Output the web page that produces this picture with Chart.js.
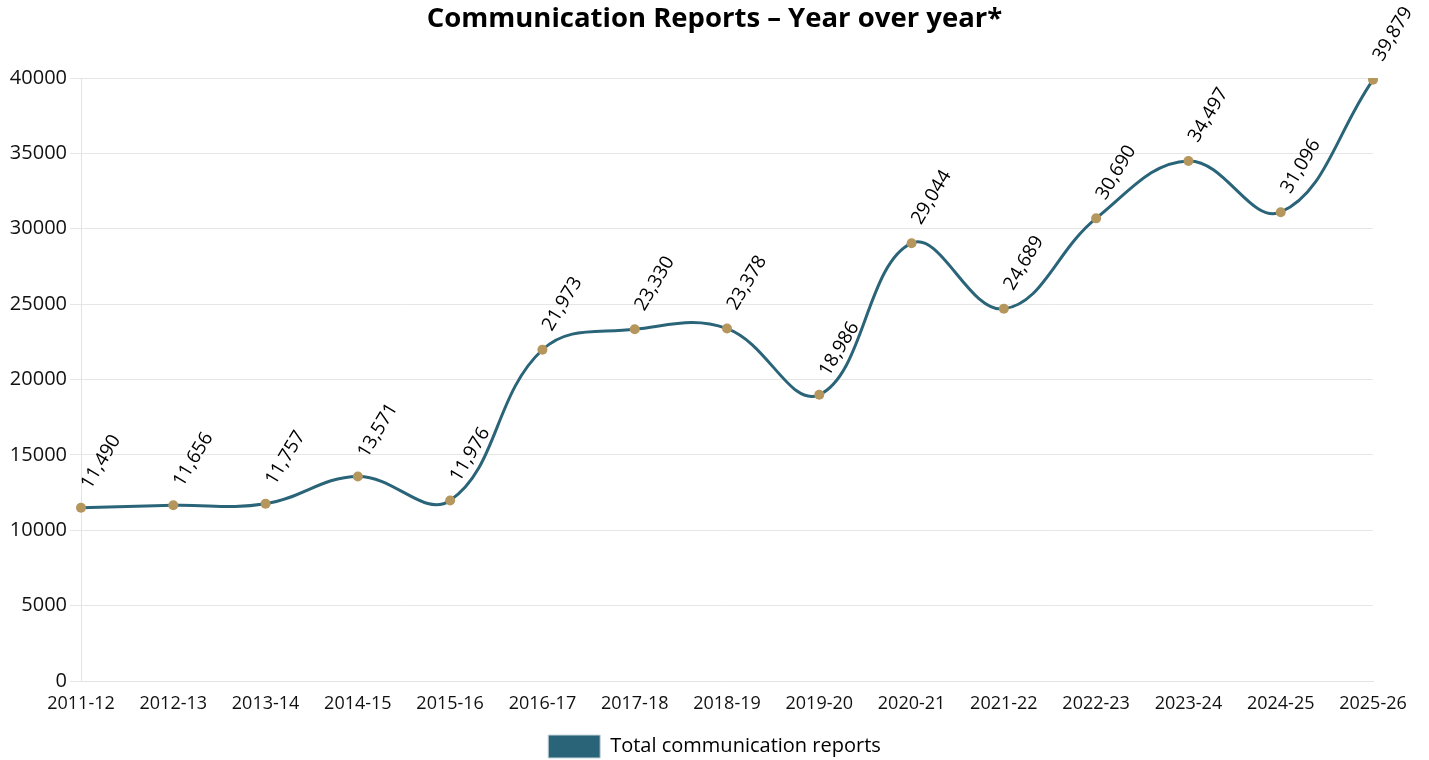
<!DOCTYPE html>
<html>
<head>
<meta charset="utf-8">
<script src="https://cdn.jsdelivr.net/npm/chart.js@4"></script>
<style>
  html, body { margin: 0; padding: 0; background: #ffffff; }
  #wrap { width: 1429px; height: 760px; }
</style>
</head>
<body>
<div id="wrap"><canvas id="chart" width="1429" height="760"></canvas></div>
<script>
// Fiscal years on the x axis
const years = ['2011-12','2012-13','2013-14','2014-15','2015-16','2016-17','2017-18',
  '2018-19','2019-20','2020-21','2021-22','2022-23','2023-24','2024-25','2025-26'];
// Total communication reports per year
const reports = [11490, 11656, 11757, 13571, 11976, 21973, 23330, 23378, 18986,
  29044, 24689, 30690, 34497, 31096, 39879];
// Y axis tick values
const yTicks = [0, 5000, 10000, 15000, 20000, 25000, 30000, 35000, 40000];

const FONT = "'Open Sans', 'Noto Sans', sans-serif";
const LINE = '#2a6478';
const DOT = '#b5965c';

// Rotated value labels above each point
const valueLabels = {
  id: 'valueLabels',
  afterDatasetsDraw(chart) {
    const ctx = chart.ctx;
    const meta = chart.getDatasetMeta(0);
    ctx.save();
    ctx.font = '19px ' + FONT;
    ctx.fillStyle = '#000000';
    ctx.textAlign = 'left';
    ctx.textBaseline = 'alphabetic';
    meta.data.forEach((pt, i) => {
      ctx.save();
      ctx.translate(pt.x, pt.y);
      ctx.rotate(-59 * Math.PI / 180);
      ctx.fillText(reports[i].toLocaleString('en-US'), 20, -1);
      ctx.restore();
    });
    ctx.restore();
  }
};

new Chart(document.getElementById('chart'), {
  type: 'line',
  data: {
    labels: years,
    datasets: [{
      label: 'Total communication reports',
      data: reports,
      borderColor: LINE,
      backgroundColor: LINE,
      borderWidth: 3,
      tension: 0.4,
      pointRadius: 5,
      pointHoverRadius: 5,
      pointBackgroundColor: DOT,
      pointBorderColor: DOT,
      pointBorderWidth: 0
    }]
  },
  options: {
    responsive: false,
    animation: false,
    layout: { padding: { left: 0, right: 0, top: 0, bottom: -8 } },
    plugins: {
      title: {
        display: true,
        text: 'Communication Reports \u2013 Year over year*',
        color: '#000000',
        font: { family: FONT, size: 27.5, weight: 'bold' },
        padding: { top: 3, bottom: 42 }
      },
      legend: {
        display: true,
        position: 'bottom',
        labels: {
          color: '#111111',
          font: { family: FONT, size: 20 },
          boxWidth: 52,
          boxHeight: 23,
          padding: 2,
          generateLabels(chart) {
            return [{
              text: 'Total communication reports',
              fillStyle: LINE,
              strokeStyle: '#c9d6dc',
              lineWidth: 1,
              datasetIndex: 0
            }];
          }
        }
      },
      tooltip: { enabled: false }
    },
    scales: {
      x: {
        offset: false,
        afterFit(scale) { scale.height = 52; },
        grid: { display: false, drawTicks: false },
        border: { display: true, color: '#e3e3e3' },
        ticks: {
          color: '#111111',
          font: { family: FONT, size: 18 },
          maxRotation: 0,
          autoSkip: false,
          padding: 12
        }
      },
      y: {
        min: 0,
        max: 40000,
        afterBuildTicks(scale) { scale.ticks = yTicks.map(v => ({ value: v })); },
        afterFit(scale) { scale.width = 81; },
        grid: { color: '#e6e6e6', tickLength: 11 },
        border: { display: true, color: '#e3e3e3' },
        ticks: {
          color: '#111111',
          font: { family: FONT, size: 20 },
          padding: 3,
          callback: v => String(v)
        }
      },
      // empty right-hand margin so the plot ends short of the canvas edge
      yRight: {
        position: 'right',
        min: 0,
        max: 40000,
        afterFit(scale) { scale.width = 56; },
        grid: { display: false, drawTicks: false },
        border: { display: false },
        ticks: { display: false }
      }
    }
  },
  plugins: [valueLabels]
});
</script>
</body>
</html>
